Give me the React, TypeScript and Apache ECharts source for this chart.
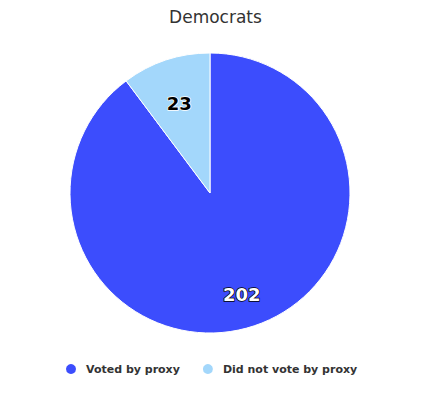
import React, { useEffect, useRef } from "react";
import * as echarts from "echarts";

const categories = ["Voted by proxy", "Did not vote by proxy"];
const values = [202, 23];
const colors = ["#3c4dfd", "#a3d7fb"];
const labelFill = ["#ffffff", "#000000"];
const labelStroke = ["#000000", "#ffffff"];
const labelOffsets = [[-1, 3], [2, 9]];
const title = "Democrats";

export default function App() {
  const ref = useRef<HTMLDivElement>(null);
  useEffect(() => {
    if (!ref.current) return;
    const chart = echarts.init(ref.current, null, { renderer: "svg" });
    const font = "'DejaVu Sans', 'Lucida Grande', sans-serif";
    const data = categories.map((name, i) => ({
      name,
      value: values[i],
      itemStyle: { color: colors[i] },
    }));
    const labelData = categories.map((name, i) => ({
      name,
      value: values[i],
      label: {
        color: labelFill[i],
        textBorderColor: labelStroke[i],
        textBorderWidth: 1.5,
        offset: labelOffsets[i],
      },
    }));
    chart.setOption({
      animation: false,
      title: {
        text: title,
        left: "center",
        top: 0,
        padding: 0,
        textStyle: { fontFamily: font, fontSize: 17, fontWeight: "normal", color: "#333333" },
      },
      legend: {
        data: categories,
        bottom: 11,
        left: 56,
        icon: "circle",
        itemWidth: 20,
        itemHeight: 12,
        itemGap: 21,
        padding: 0,
        textStyle: { fontFamily: font, fontSize: 11, fontWeight: "bold", color: "#333333" },
      },
      series: [
        {
          type: "pie",
          center: [202, 185],
          radius: [0, 140],
          startAngle: 90,
          clockwise: true,
          data,
          label: { show: false },
          labelLine: { show: false },
          itemStyle: { borderColor: "#ffffff", borderWidth: 1 },
          emphasis: { disabled: true },
        },
        {
          type: "pie",
          center: [202, 185],
          radius: [62, 140],
          startAngle: 90,
          clockwise: true,
          silent: true,
          data: labelData,
          itemStyle: { color: "rgba(0,0,0,0)" },
          label: {
            show: true,
            position: "inside",
            formatter: "{c}",
            fontFamily: font,
            fontSize: 18,
            fontWeight: "bold",
          },
          labelLine: { show: false },
          emphasis: { disabled: true },
        },
      ],
    });
    return () => chart.dispose();
  }, []);
  return <div ref={ref} style={{ width: 415, height: 379 }} />;
}
